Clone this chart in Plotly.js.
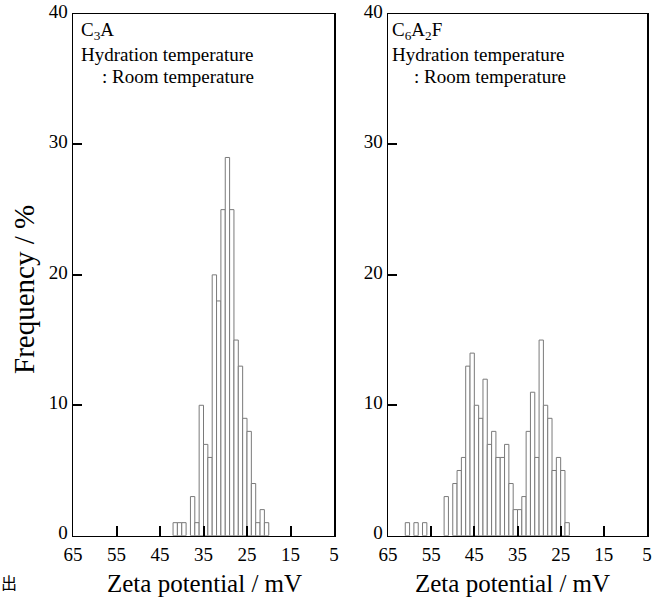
<!DOCTYPE html>
<html>
<head>
<meta charset="utf-8">
<script src="https://cdn.plot.ly/plotly-3.0.1.min.js"></script>
<style>html,body{margin:0;padding:0;background:#fff;}#chart{width:652px;height:597px;}</style>
</head>
<body>
<div id="chart"></div>
<script>
// Zeta potential bin centres (mV) and frequency (%)
const c3aZeta = [41.5, 40.5, 39.5, 37.5, 36.5, 35.5, 34.5, 33.5, 32.5, 31.5, 30.5, 29.5, 28.5, 27.5, 26.5, 25.5, 24.5, 23.5, 22.5, 21.5, 20.5];
const c3aFreq = [1, 1, 1, 3, 1, 10, 7, 6, 20, 18, 25, 29, 25, 15, 13, 9, 8, 4, 1, 2, 1];

const c6a2fZeta = [60.5, 58.5, 56.5, 51.5, 49.5, 48.5, 47.5, 46.5, 45.5, 44.5, 43.5, 42.5, 41.5, 40.5, 39.5, 38.5, 37.5, 36.5, 35.5, 34.5, 33.5, 32.5, 31.5, 30.5, 29.5, 28.5, 27.5, 26.5, 25.5, 24.5, 23.5];
const c6a2fFreq = [1, 1, 1, 3, 4, 5, 6, 13, 14, 10, 9, 12, 7, 8, 6, 6, 7, 4, 2, 2, 3, 8, 11, 6, 15, 10, 9, 5, 6, 5, 1];

const xTicks = [65, 55, 45, 35, 25, 15, 5];
const yTicks = [0, 10, 20, 30, 40];
const panelLabels = ['C<sub>3</sub>A', 'C<sub>6</sub>A<sub>2</sub>F'];
const noteLine1 = 'Hydration temperature';
const noteLine2 = ': Room temperature';
const xTitle = 'Zeta potential / mV';
const yTitle = 'Frequency / %';

const W = 652, H = 597;
const px = v => v / W;
const py = v => 1 - v / H;
const FONT = 'Liberation Serif';

const barStyle = {color: '#ffffff', line: {color: '#7a7a7a', width: 1}};

const traces = [
  {type: 'bar', x: c3aZeta, y: c3aFreq, width: 1, marker: barStyle, xaxis: 'x', yaxis: 'y', hoverinfo: 'x+y'},
  {type: 'bar', x: c6a2fZeta, y: c6a2fFreq, width: 1, marker: barStyle, xaxis: 'x2', yaxis: 'y2', hoverinfo: 'x+y'}
];

function xAxis(domain, anchor) {
  return {
    domain: domain, anchor: anchor, range: [65, 5], autorange: false,
    tickmode: 'array', tickvals: xTicks, ticktext: xTicks.map(String),
    ticks: 'inside', ticklen: 10, tickwidth: 2, tickcolor: '#000',
    ticklabelstandoff: 1, ticklabeloverflow: 'allow',
    showline: true, linecolor: '#000', linewidth: 1.5, mirror: true,
    showgrid: false, zeroline: false,
    tickfont: {family: FONT, size: 19, color: '#000'}
  };
}
function yAxis(anchor) {
  return {
    domain: [1 - 535.7 / H, 1 - 14 / H], anchor: anchor, range: [0, 40], autorange: false,
    tickmode: 'array', tickvals: yTicks, ticktext: yTicks.map(String),
    ticks: 'inside', ticklen: 9, tickwidth: 2, tickcolor: '#000',
    ticklabelshift: -3, ticklabeloverflow: 'allow',
    showline: true, linecolor: '#000', linewidth: 1.5, mirror: true,
    showgrid: false, zeroline: false,
    tickfont: {family: FONT, size: 19, color: '#000'}
  };
}

const ann = [];
const panelLeft = [79, 390];
const roomLeft = [100, 412];
for (let i = 0; i < 2; i++) {
  ann.push({xref: 'paper', yref: 'paper', x: px(panelLeft[i]), y: py(31), xanchor: 'left', yanchor: 'middle',
    text: panelLabels[i], showarrow: false, font: {family: FONT, size: 19, color: '#000'}});
  ann.push({xref: 'paper', yref: 'paper', x: px(panelLeft[i]), y: py(55), xanchor: 'left', yanchor: 'middle',
    text: noteLine1, showarrow: false, font: {family: FONT, size: 19, color: '#000'}});
  ann.push({xref: 'paper', yref: 'paper', x: px(roomLeft[i]), y: py(76), xanchor: 'left', yanchor: 'middle',
    text: noteLine2, showarrow: false, font: {family: FONT, size: 19, color: '#000'}});
}
ann.push({xref: 'paper', yref: 'paper', x: px(204), y: py(583), xanchor: 'center', yanchor: 'middle',
  text: xTitle, showarrow: false, font: {family: FONT, size: 25, color: '#000'}});
ann.push({xref: 'paper', yref: 'paper', x: px(512), y: py(583), xanchor: 'center', yanchor: 'middle',
  text: xTitle, showarrow: false, font: {family: FONT, size: 25, color: '#000'}});
ann.push({xref: 'paper', yref: 'paper', x: px(24), y: py(290), xanchor: 'center', yanchor: 'middle', textangle: -90,
  text: yTitle, showarrow: false, font: {family: FONT, size: 29, color: '#000'}});
ann.push({xref: 'paper', yref: 'paper', x: px(9), y: py(582), xanchor: 'center', yanchor: 'middle',
  text: '出', showarrow: false, font: {family: 'Noto Sans CJK JP', size: 16, color: '#000'}});

const layout = {
  width: W, height: H,
  margin: {l: 0, r: 0, t: 0, b: 0},
  paper_bgcolor: '#fff', plot_bgcolor: '#fff',
  showlegend: false,
  barmode: 'overlay',
  xaxis: xAxis([73 / W, 334 / W], 'y'),
  yaxis: yAxis('x'),
  xaxis2: xAxis([388 / W, 647 / W], 'y2'),
  yaxis2: yAxis('x2'),
  annotations: ann
};

Plotly.newPlot('chart', traces, layout, {staticPlot: true, displayModeBar: false});
</script>
</body>
</html>
